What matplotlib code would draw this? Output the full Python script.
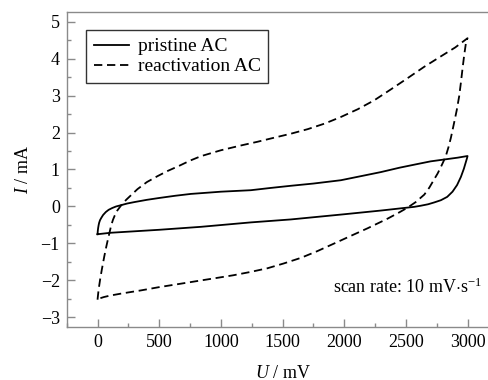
import numpy as np
import matplotlib
matplotlib.use("Agg")
import matplotlib.pyplot as plt
from matplotlib.ticker import MultipleLocator

# ============================================================================
# Data
# ============================================================================
# pristine AC: forward (upper) branch 0 -> 3000 mV
pristine_fwd_u = [0, 2, 5, 9, 13, 20, 30, 45, 67, 90, 120, 150, 190, 240, 300,
                  400, 500, 630, 757, 900, 1000, 1243, 1400, 1568, 1750, 1973,
                  2150, 2297, 2450, 2567, 2700, 2810, 2920, 3000]
pristine_fwd_i = [-0.75, -0.66, -0.58, -0.50, -0.44, -0.37, -0.31, -0.23,
                  -0.15, -0.09, -0.04, 0.00, 0.035, 0.08, 0.12, 0.18, 0.23,
                  0.29, 0.34, 0.375, 0.40, 0.44, 0.50, 0.56, 0.62, 0.71, 0.83,
                  0.93, 1.05, 1.13, 1.22, 1.27, 1.32, 1.365]
# pristine AC: reverse (lower) branch 3000 -> 0 mV
pristine_rev_u = [3000, 2995, 2986, 2970, 2946, 2915, 2878, 2835, 2784, 2730,
                  2680, 2620, 2567, 2459, 2297, 2000, 1568, 1243, 838, 500,
                  108, 0]
pristine_rev_i = [1.365, 1.30, 1.20, 1.02, 0.80, 0.58, 0.40, 0.26, 0.17, 0.11,
                  0.06, 0.02, -0.01, -0.05, -0.11, -0.21, -0.35, -0.43, -0.55,
                  -0.63, -0.71, -0.75]

# reactivation AC: forward (upper) branch 0 -> 3000 mV
react_fwd_u = [0, 3, 7, 13, 22, 35, 54, 70, 80, 94, 110, 125, 140, 160, 180,
               203, 235, 270, 324, 400, 486, 568, 662, 750, 838, 1000, 1163,
               1297, 1432, 1570, 1703, 1840, 1973, 2110, 2243, 2380, 2514,
               2650, 2784, 2900, 3000]
react_fwd_i = [-2.52, -2.42, -2.30, -2.15, -1.95, -1.70, -1.36, -1.10, -0.95,
               -0.75, -0.52, -0.36, -0.24, -0.11, -0.02, 0.08, 0.19, 0.30,
               0.47, 0.66, 0.82, 0.96, 1.10, 1.24, 1.36, 1.52, 1.65, 1.75,
               1.86, 1.97, 2.09, 2.24, 2.42, 2.63, 2.87, 3.17, 3.47, 3.78,
               4.06, 4.30, 4.55]
# reactivation AC: reverse (lower) branch 3000 -> 0 mV
react_rev_u = [3000, 2993, 2986, 2973, 2960, 2946, 2932, 2912, 2892, 2865,
               2845, 2827, 2805, 2784, 2757, 2732, 2690, 2649, 2580, 2514,
               2446, 2351, 2270, 2189, 2050, 1919, 1780, 1648, 1510, 1378,
               1240, 1100, 970, 838, 670, 500, 350, 200, 100, 50, 13, 0]
react_rev_i = [4.55, 4.50, 4.40, 4.10, 3.75, 3.35, 2.98, 2.60, 2.28, 1.86,
               1.60, 1.40, 1.22, 1.07, 0.89, 0.75, 0.51, 0.32, 0.12, -0.03,
               -0.16, -0.33, -0.46, -0.59, -0.80, -1.00, -1.21, -1.39, -1.54,
               -1.67, -1.77, -1.86, -1.93, -2.00, -2.09, -2.18, -2.27, -2.35,
               -2.41, -2.45, -2.49, -2.52]

series_labels = ["pristine AC", "reactivation AC"]
note_text = r"scan rate: 10 mV$\cdot$s$^{\mathregular{-1}}$"

# ============================================================================
# Style
# ============================================================================
plt.rcParams["font.family"] = ["Liberation Serif", "DejaVu Serif"]
plt.rcParams["mathtext.fontset"] = "custom"
plt.rcParams["mathtext.rm"] = "Liberation Serif"
plt.rcParams["mathtext.it"] = "Liberation Serif:italic"
plt.rcParams["font.size"] = 13

spine_col = "#8a8a8a"

fig = plt.figure(figsize=(4.88, 3.80), dpi=100)
ax = fig.add_axes([0.1367, 0.1403, 0.8846, 0.8273])

# ============================================================================
# Plot
# ============================================================================
ax.plot(pristine_fwd_u + pristine_rev_u, pristine_fwd_i + pristine_rev_i,
        color="black", linewidth=1.3, label=series_labels[0])
ax.plot(react_fwd_u + react_rev_u, react_fwd_i + react_rev_i,
        color="black", linewidth=1.3, dashes=(4.6, 2.6),
        label=series_labels[1])

ax.set_xlim(-250, 3250)

ax.xaxis.set_major_locator(MultipleLocator(500))
ax.xaxis.set_minor_locator(MultipleLocator(250))
ax.yaxis.set_major_locator(MultipleLocator(1))
ax.yaxis.set_minor_locator(MultipleLocator(0.5))

ax.tick_params(which="both", direction="in", color=spine_col,
               labelcolor="black", width=1.0)
ax.tick_params(which="major", length=6, pad=5)
ax.tick_params(which="minor", length=3)
ax.set_yticks(ax.get_yticks())
ax.set_yticklabels([f"{v:g}".replace("-", "\u2212") for v in ax.get_yticks()])
ax.set_ylim(-3.25, 5.25)

for side in ["left", "bottom", "top", "right"]:
    ax.spines[side].set_color(spine_col)
    ax.spines[side].set_linewidth(1.0)

ax.set_xlabel(r"$\mathit{U}$ / mV", labelpad=10)
ax.set_ylabel(r"$\mathit{I}$ / mA", labelpad=6)

ax.text(1905, -2.35, note_text, fontsize=13, ha="left", va="baseline")

leg = ax.legend(loc="upper left", bbox_to_anchor=(0.0447, 0.9437),
                borderaxespad=0, frameon=True, fancybox=False,
                handlelength=1.8, handletextpad=0.45, borderpad=0.4,
                labelspacing=0.12, fontsize=14)
leg.get_frame().set_edgecolor("black")
leg.get_frame().set_linewidth(1.0)

fig.savefig("out.png", dpi=100)
plt.close(fig)
